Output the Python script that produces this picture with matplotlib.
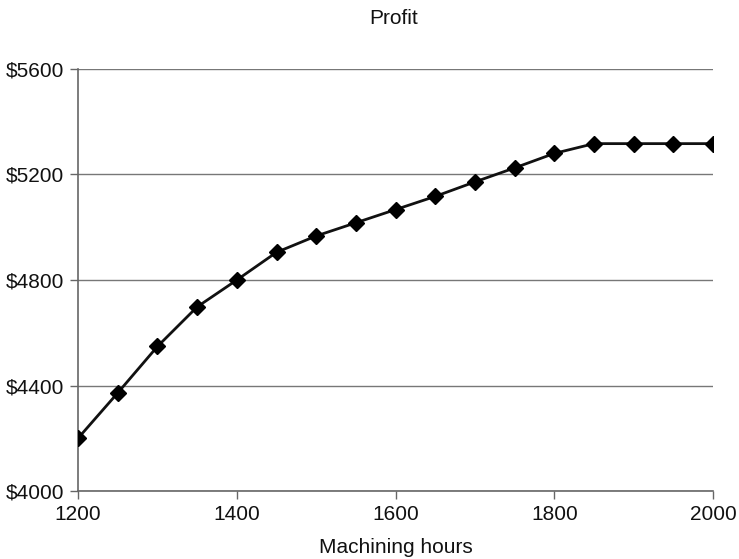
import matplotlib
matplotlib.use("Agg")
import matplotlib.pyplot as plt
from matplotlib.ticker import FuncFormatter

plt.rcParams['font.family'] = ['Liberation Sans', 'DejaVu Sans']

# Machining hours vs profit
hours = [1200, 1250, 1300, 1350, 1400, 1450, 1500, 1550, 1600,
         1650, 1700, 1750, 1800, 1850, 1900, 1950, 2000]
profit = [4200, 4372, 4548, 4698, 4800, 4905, 4967, 5017, 5067,
          5117, 5172, 5225, 5280, 5317, 5317, 5317, 5317]

x_ticks = [1200, 1400, 1600, 1800, 2000]
y_ticks = [4000, 4400, 4800, 5200, 5600]

fig = plt.figure(figsize=(7.39, 5.59), dpi=100)
ax = fig.add_axes([0.1056, 0.1216, 0.8594, 0.755])

ax.plot(hours, profit, color='#111111', linewidth=2.0, marker='D',
        markersize=8.5, markerfacecolor='black', markeredgecolor='black', zorder=3)

ax.set_xlim(1200, 2000)
ax.set_ylim(4000, 5600)
ax.set_xticks(x_ticks)
ax.set_yticks(y_ticks)
ax.yaxis.set_major_formatter(FuncFormatter(lambda v, p: f"${v:.0f}"))

ax.grid(True, axis='y', color='#777777', linewidth=1.0)
ax.set_axisbelow(True)
for s in ['top', 'right']:
    ax.spines[s].set_visible(False)
for s in ['left', 'bottom']:
    ax.spines[s].set_color('#666666')
    ax.spines[s].set_linewidth(1.2)
ax.tick_params(axis='both', direction='out', length=6, width=1.0,
               color='#666666', labelsize=15, labelcolor='#111111', pad=4)

fig.text(0.532, 1 - 18 / 559, 'Profit', fontsize=15, ha='center', va='center', color='#111111')
ax.set_xlabel('Machining hours', fontsize=15, labelpad=10, color='#111111')

plt.savefig('out.png', dpi=100)
